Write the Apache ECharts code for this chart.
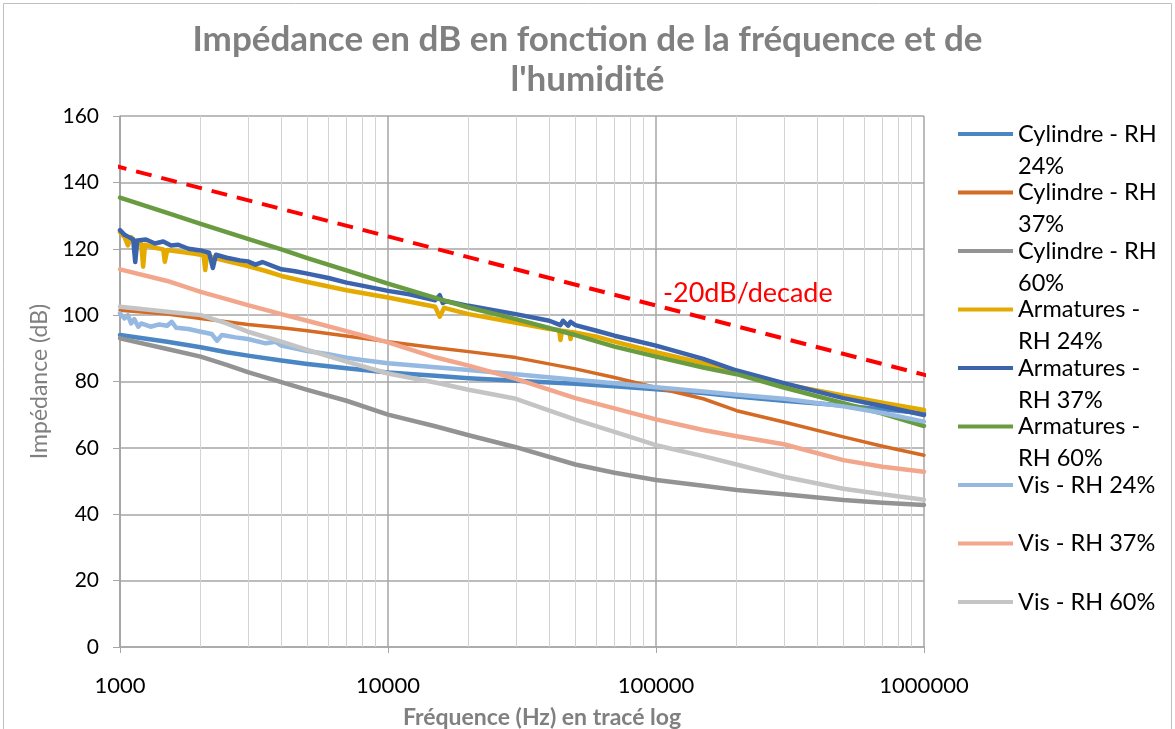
<!DOCTYPE html>
<html><head><meta charset="utf-8">
<script src="https://cdn.jsdelivr.net/npm/echarts@6/dist/echarts.min.js"></script>
<style>html,body{margin:0;padding:0;background:#fff}#c{width:1175px;height:729px}</style>
</head><body><div id="c"></div>
<script>
const FONT = 'Lato, "Noto Sans", sans-serif';
const chartTitle = "Impédance en dB en fonction de la fréquence et de\nl'humidité";
const xAxisName = "Fréquence (Hz) en tracé log";
const yAxisName = "Impédance (dB)";
const xTickLabels = ['1000', '10000', '100000', '1000000'];
const slopeLabel = '-20dB/decade';

const seriesNames = ['Cylindre - RH 24%', 'Cylindre - RH 37%', 'Cylindre - RH 60%',
  'Armatures - RH 24%', 'Armatures - RH 37%', 'Armatures - RH 60%',
  'Vis - RH 24%', 'Vis - RH 37%', 'Vis - RH 60%'];
const legendTexts = ['Cylindre - RH\n24%', 'Cylindre - RH\n37%', 'Cylindre - RH\n60%',
  'Armatures -\nRH 24%', 'Armatures -\nRH 37%', 'Armatures -\nRH 60%',
  'Vis - RH 24%', 'Vis - RH 37%', 'Vis - RH 60%'];
const seriesColors = ['#4A86C3', '#D46A24', '#939393', '#E4AA00', '#3B64AD', '#699C40', '#95B9E1', '#F2A78C', '#C4C4C4'];

const freqSmooth = [1000, 1500, 2000, 2500, 3000, 4000, 5000, 7000, 10000, 15000, 20000, 30000, 50000, 70000, 100000, 150000, 200000, 300000, 500000, 700000, 1000000];
const cyl24 = [94, 92, 90.3, 88.8, 87.8, 86.3, 85.3, 84, 82.7, 81.7, 81, 80.2, 79.3, 78.6, 77.7, 76.5, 75.5, 74.2, 72.8, 71.6, 70.4];
const cyl37 = [101.5, 100.3, 99, 98, 97.2, 96.2, 95.3, 93.7, 92, 90.2, 89, 87.2, 83.8, 81.2, 78.2, 74.8, 71.2, 67.8, 63.3, 60.5, 57.8];
const cyl60 = [93, 89.8, 87.5, 85, 82.8, 79.8, 77.5, 74.2, 70, 66.5, 63.8, 60.2, 55, 52.5, 50.3, 48.6, 47.3, 46, 44.3, 43.5, 42.8];
const arm60 = [135.4, 130.8, 127.5, 125, 123, 119.8, 117.2, 113.5, 109.5, 105.2, 102.3, 98.8, 94, 90.5, 87.5, 84.2, 82.2, 78.2, 73.5, 70.3, 66.6];
const vis37 = [113.8, 110.3, 107, 104.8, 103, 100.3, 98.3, 95.2, 91.8, 87.3, 84.8, 80.8, 75, 71.9, 68.6, 65.4, 63.5, 61.1, 56.3, 54.3, 52.8];
const vis60 = [102.5, 101, 100, 97.5, 95, 92, 89.5, 86, 82.4, 79.7, 77.5, 74.8, 68.5, 64.8, 60.8, 57.5, 55, 51.3, 47.7, 46, 44.4];

const arm24Freq = [1000, 1040, 1070, 1100, 1150, 1200, 1220, 1240, 1350, 1450, 1470, 1500, 1700, 1900, 2050, 2080, 2110, 2500, 3000, 3500, 4000, 5000, 7000, 10000, 15000, 15600, 16200, 20000, 30000, 40000, 43500, 44000, 44600, 47500, 48000, 48600, 60000, 70000, 100000, 150000, 200000, 300000, 500000, 700000, 1000000];
const arm24 = [125, 123.5, 121, 123.5, 122, 121.5, 114.6, 121.2, 120.3, 119.8, 116.1, 119.6, 119, 118.5, 118, 113.6, 117.8, 116.3, 114.8, 113.3, 111.8, 110, 107.5, 105.3, 102.5, 99.5, 102.2, 100.3, 97.7, 95.8, 95.5, 92.5, 95.3, 95, 92.8, 94.9, 93.5, 92, 88.8, 85.5, 83, 79.2, 75.8, 73.6, 71.4];

const arm37Freq = [1000, 1040, 1080, 1120, 1140, 1160, 1250, 1350, 1450, 1550, 1650, 1800, 2000, 2150, 2220, 2280, 2500, 2800, 3000, 3200, 3400, 4000, 4500, 5000, 6000, 7000, 8000, 10000, 12000, 15000, 15600, 16000, 16500, 20000, 30000, 40000, 44000, 45000, 47000, 48000, 50000, 60000, 70000, 100000, 150000, 200000, 300000, 500000, 700000, 1000000];
const arm37 = [125.6, 124.2, 123.5, 122.8, 116, 122.5, 122.8, 121.6, 122.2, 121, 121.2, 120, 119.5, 118.8, 114.2, 118.2, 117.3, 116.5, 116.2, 115.2, 116, 113.8, 113.2, 112.5, 111.2, 109.8, 108.9, 107.3, 106.3, 104.5, 106, 103.7, 104.2, 102.8, 100.3, 98.3, 97, 98.3, 96.8, 98, 97, 95.3, 93.8, 90.8, 86.8, 83.3, 79.5, 75, 72.6, 69.9];

const vis24Freq = [1000, 1040, 1070, 1100, 1130, 1170, 1200, 1300, 1400, 1500, 1560, 1620, 1800, 2000, 2200, 2300, 2400, 2700, 3000, 3500, 3800, 4000, 5000, 6000, 7000, 8000, 10000, 15000, 20000, 30000, 50000, 70000, 100000, 150000, 200000, 300000, 500000, 700000, 1000000];
const vis24 = [100.5, 99, 100, 97.5, 98.8, 96.5, 97.5, 96.5, 97.2, 96.8, 98, 96.2, 95.8, 95, 94.3, 92.3, 94, 93.3, 92.8, 91.5, 92, 90.8, 89.2, 88.2, 87.2, 86.5, 85.5, 84.3, 83.5, 82.2, 80.5, 79.5, 78.3, 77, 76, 74.8, 72.5, 70.5, 67.9];

const slopeFreq = [600, 1160000];
const slopeValues = [149.2, 80.7];

const minorFreqs = [2000, 3000, 4000, 5000, 6000, 7000, 8000, 9000,
  20000, 30000, 40000, 50000, 60000, 70000, 80000, 90000,
  200000, 300000, 400000, 500000, 600000, 700000, 800000, 900000];

const seriesData = [
  [freqSmooth, cyl24], [freqSmooth, cyl37], [freqSmooth, cyl60],
  [arm24Freq, arm24], [arm37Freq, arm37], [freqSmooth, arm60],
  [vis24Freq, vis24], [freqSmooth, vis37], [freqSmooth, vis60]
];
const pairs = (xs, ys) => xs.map((x, i) => [x, ys[i]]);

const series = seriesNames.map((name, i) => ({
  name, type: 'line', showSymbol: false, symbol: 'none', z: 3 + i * 0.01,
  data: pairs(seriesData[i][0], seriesData[i][1]),
  lineStyle: { color: seriesColors[i], width: i === 1 ? 3.5 : 4.5, cap: 'round', join: 'round' },
  itemStyle: { color: seriesColors[i] },
  animation: false, silent: true
}));

series.unshift({
  name: 'grid-minor', type: 'line', data: [], silent: true, animation: false,
  markLine: {
    z: 1, silent: true, symbol: 'none', label: { show: false }, animation: false,
    lineStyle: { color: '#D3D3D3', width: 1, type: 'solid' },
    data: minorFreqs.map(f => ({ xAxis: f }))
  }
});

series.push({
  name: slopeLabel, type: 'line', showSymbol: false, symbol: 'none', clip: false, z: 4,
  data: pairs(slopeFreq, slopeValues),
  lineStyle: { color: '#FF0000', width: 4, type: [16, 10] },
  animation: false, silent: true
});

// three text lines per legend entry so the first text line sits at the icon
const legendLabel = name => {
  const t = legendTexts[seriesNames.indexOf(name)];
  return t.includes('\n') ? ' \n' + t : ' \n' + t + '\n ';
};

const xLabel = v => {
  const lbl = xTickLabels.find(l => Math.abs(Math.log10(Number(l)) - Math.log10(v)) < 1e-6);
  return lbl || '';
};

const chart = echarts.init(document.getElementById('c'), null, { renderer: 'canvas' });
chart.setOption({
  backgroundColor: '#fff',
  animation: false,
  textStyle: { fontFamily: FONT },
  title: {
    text: chartTitle, left: 'center', top: 15,
    textStyle: { fontFamily: FONT, fontSize: 35, fontWeight: 'bold', color: '#808080', lineHeight: 40 }
  },
  legend: {
    orient: 'vertical', left: 958, top: 86, itemGap: -37.5, padding: 0,
    itemWidth: 55, itemHeight: 4, icon: 'rect',
    formatter: legendLabel,
    textStyle: { fontFamily: FONT, fontSize: 23.5, color: '#000', lineHeight: 32 },
    data: seriesNames
  },
  grid: { left: 120, right: 251, top: 116, bottom: 82, containLabel: false, outerBoundsMode: 'none' },
  xAxis: {
    type: 'log', logBase: 10, min: 1000, max: 1000000,
    name: xAxisName, nameLocation: 'middle', nameGap: 59,
    nameTextStyle: { fontFamily: FONT, fontSize: 23, fontWeight: 'bold', color: '#808080', padding: [0, 0, 0, 40] },
    axisLine: { show: true, lineStyle: { color: '#A6A6A6', width: 1.5 } },
    axisTick: { show: true, length: 6, lineStyle: { color: '#A6A6A6' } },
    axisLabel: { fontFamily: FONT, fontSize: 22, color: '#000', margin: 28, formatter: xLabel },
    splitLine: { show: true, lineStyle: { color: '#A6A6A6', width: 1.5 } }
  },
  yAxis: {
    type: 'value', min: 0, max: 160, interval: 20,
    name: yAxisName, nameLocation: 'middle', nameGap: 63,
    nameTextStyle: { fontFamily: FONT, fontSize: 23, color: '#808080' },
    axisLine: { show: true, lineStyle: { color: '#A6A6A6', width: 1.5 } },
    axisTick: { show: true, length: 7, lineStyle: { color: '#A6A6A6' } },
    axisLabel: { fontFamily: FONT, fontSize: 21, color: '#000', margin: 21 },
    splitLine: { show: true, lineStyle: { color: '#A6A6A6', width: 1.5 } }
  },
  graphic: [
    { type: 'rect', shape: { x: 3.5, y: 3.5, width: 1168, height: 740 }, style: { fill: 'none', stroke: '#BFBFBF', lineWidth: 1 }, silent: true, z: -1 },
    { type: 'text', left: 663, top: 280, style: { text: slopeLabel, fill: '#FF0000', font: '27px ' + FONT }, silent: true, z: 10 }
  ],
  series
});
</script></body></html>
